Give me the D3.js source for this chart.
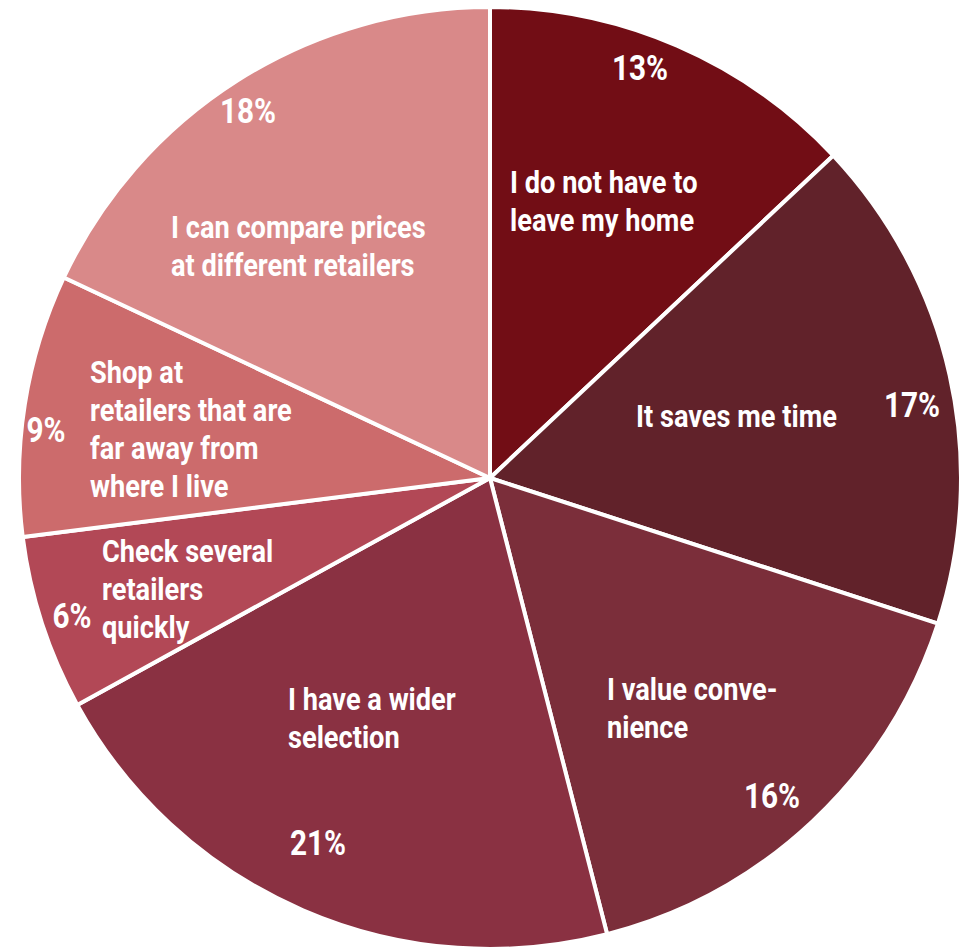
<!DOCTYPE html>
<html>
<head>
<meta charset="utf-8">
<script src="https://cdn.jsdelivr.net/npm/d3@7"></script>
<style>
  html, body { margin: 0; padding: 0; background: #fff; }
  text { font-family: "Roboto", sans-serif; font-weight: bold; fill: #fff; }
</style>
</head>
<body>
<div id="chart-container"></div>
<script>
const reasons = [
    ["I do not have to", "leave my home"],
    ["It saves me time"],
    ["I value conve-", "nience"],
    ["I have a wider", "selection"],
    ["Check several", "retailers", "quickly"],
    ["Shop at", "retailers that are", "far away from", "where I live"],
    ["I can compare prices", "at different retailers"]
];
const shares = [13, 17, 16, 21, 6, 9, 18];
const colors = ["#720d15", "#61222a", "#7b2e3a", "#8a3142", "#b24856", "#cc6b6c", "#d98989"];

// label placement, relative to the pie centre
const labelLayout = [
    { text: [20, -285], pct: [150, -398] },
    { text: [146, -51], pct: [422, -61] },
    { text: [117, 222], pct: [282, 330] },
    { text: [-202, 232], pct: [-172, 377] },
    { text: [-388, 84], pct: [-418, 150] },
    { text: [-400, -95], pct: [-444, -36] },
    { text: [-319, -240], pct: [-242, -355] }
];

const width = 960, height = 948;
const cx = 490, cy = 478, radius = 471;
const lineHeight = 38;
const squeeze = 0.85; // condensed look of the original type

const svg = d3.select("#chart-container")
    .append("svg")
    .attr("width", width)
    .attr("height", height);

const g = svg.append("g")
    .attr("transform", `translate(${cx}, ${cy})`);

const pie = d3.pie().sort(null).value(d => d);
const arc = d3.arc().innerRadius(0).outerRadius(radius);
const arcs = pie(shares);

g.selectAll(".slice")
    .data(arcs)
    .enter()
    .append("path")
    .attr("class", "slice")
    .attr("d", arc)
    .attr("fill", (d, i) => colors[i])
    .attr("stroke", "#fff")
    .attr("stroke-width", 4)
    .attr("stroke-linejoin", "round");

// category labels
arcs.forEach((d, i) => {
    const [x, y] = labelLayout[i].text;
    const t = g.append("text")
        .attr("transform", `translate(${x}, ${y}) scale(${squeeze}, 1)`)
        .style("font-size", "32px");
    reasons[i].forEach((line, j) => {
        t.append("tspan")
            .attr("x", 0)
            .attr("y", j * lineHeight)
            .text(line);
    });
});

// percentages
g.selectAll(".pct")
    .data(arcs)
    .enter()
    .append("text")
    .attr("class", "pct")
    .attr("transform", (d, i) => `translate(${labelLayout[i].pct[0]}, ${labelLayout[i].pct[1]}) scale(${squeeze}, 1)`)
    .attr("text-anchor", "middle")
    .style("font-size", "35px")
    .text(d => d.data + "%");
</script>
</body>
</html>
